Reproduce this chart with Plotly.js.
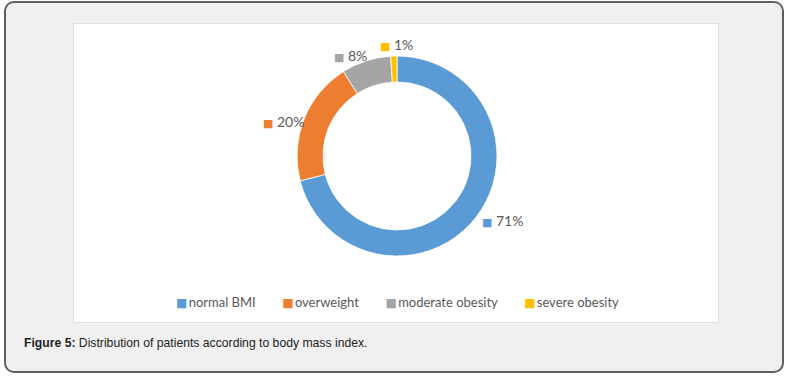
<!DOCTYPE html>
<html><head><meta charset="utf-8">
<script src="https://cdn.plot.ly/plotly-3.0.1.min.js"></script>
<style>
html,body{margin:0;padding:0;background:#fff;width:790px;height:379px;overflow:hidden}
#frame{position:absolute;box-sizing:border-box;left:4px;top:1px;width:780px;height:372px;border:2px solid #5f5f5f;border-radius:10px;background:#f0f0f0}
#chart{position:absolute;left:73px;top:23px;width:644px;height:298px;border:1px solid #dce3ec;background:#fff}
#caption{position:absolute;left:24px;top:336px;font-size:12.2px;font-family:"Liberation Sans",Arial,sans-serif;color:#222;white-space:nowrap}
</style></head><body>
<div id="frame"></div>
<div id="chart"></div>
<div id="caption"><b>Figure 5:</b> Distribution of patients according to body mass index.</div>
<script>
const categories = ['normal BMI', 'overweight', 'moderate obesity', 'severe obesity'];
const values = [71, 20, 8, 1];
const valueLabels = ['71%', '20%', '8%', '1%'];
const colors = ['#5b9bd5', '#ed7d31', '#a5a5a5', '#ffc000'];

const W = 644, H = 298, cx = 323, cy = 132, R = 100;
const txtFont = {family: 'Lato, "Open Sans", sans-serif', size: 13, color: '#595959'};
const sq = (c, fs) => `<span style="color:${c};font-family:'DejaVu Sans';font-size:${fs}px">■</span>`;

const annotations = [];
const total = values.reduce((a, b) => a + b, 0);
let cum = 0;
values.forEach((v, i) => {
  const mid = (cum + v / 2) / total * 2 * Math.PI;
  cum += v;
  const s = Math.sin(mid), c = Math.cos(mid);
  const xa = s > 0.3 ? 'left' : (s < -0.3 ? 'right' : 'center');
  const ya = c > 0.7 ? 'bottom' : (c < -0.7 ? 'top' : 'middle');
  let py = cy - (R + 1) * c;
  if (ya === 'middle') py += 3;
  if (ya === 'bottom' && xa !== 'center') py += 6;
  const px = cx + (R + 1) * s + 3;
  annotations.push({
    x: px / W, y: 1 - py / H, xref: 'paper', yref: 'paper', showarrow: false,
    xanchor: xa, yanchor: ya,
    text: sq(colors[i], 11) + '\u00a0' + valueLabels[i],
    font: {family: txtFont.family, size: 14, color: '#595959'}
  });
});

const gap = '\u00a0'.repeat(8);
annotations.push({
  x: 324 / W, y: 1 - 278 / H, xref: 'paper', yref: 'paper', showarrow: false,
  xanchor: 'center', yanchor: 'middle',
  text: categories.map((c, i) => sq(colors[i], 12) + '<span style="font-size:5px">\u00a0</span>' + c).join(gap),
  font: txtFont
});

const trace = {
  type: 'pie', values: values, labels: categories,
  marker: {colors: colors, line: {color: '#ffffff', width: 0.8}},
  hole: 0.74, sort: false, direction: 'clockwise', rotation: 0,
  textinfo: 'none', hoverinfo: 'label+percent', showlegend: false,
  domain: {x: [(cx - R) / W, (cx + R) / W], y: [1 - (cy + R) / H, 1 - (cy - R) / H]}
};

Plotly.newPlot('chart', [trace], {
  width: W, height: H, margin: {l: 0, r: 0, t: 0, b: 0},
  paper_bgcolor: '#ffffff', showlegend: false, annotations: annotations
}, {staticPlot: true});
</script>
</body></html>
